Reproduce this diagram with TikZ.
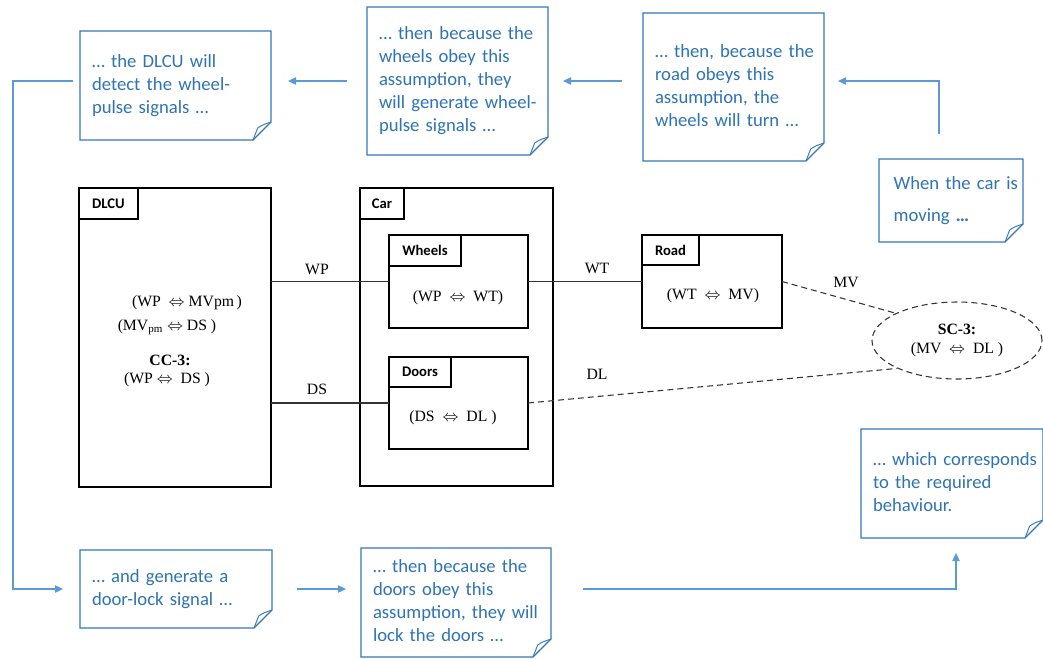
\documentclass[tikz,border=0pt]{standalone}
\usepackage{fontspec}
\setmainfont{Liberation Serif}
\newfontfamily\notefam{Carlito}
\usetikzlibrary{shapes.geometric,arrows.meta,calc}
\definecolor{notetext}{HTML}{2E74B5}
\definecolor{noteedge}{HTML}{3478BA}
\definecolor{flowcol}{HTML}{5B9BD5}
\newcommand\notelines[1]{\begin{tabular}{@{}l@{}}#1\end{tabular}}
\newcommand\noteoutline[1]{%
  \draw[noteedge, line width=0.9pt, line join=miter] (#1.north west) -- (#1.north east) -- ([yshift=13.5pt]#1.south east) -- ([xshift=-13.5pt]#1.south east) -- (#1.south west) -- cycle;
  \draw[noteedge, line width=0.7pt] ([xshift=-13.5pt]#1.south east) .. controls ([xshift=-11.5pt,yshift=5pt]#1.south east) .. ([xshift=-10pt,yshift=9pt]#1.south east) .. controls ([xshift=-6pt,yshift=11.5pt]#1.south east) .. ([yshift=13.5pt]#1.south east);}
\begin{document}
\begin{tikzpicture}[x=0.75pt,y=-0.75pt,
  notebox/.style={font=\notefam\fontsize{14}{17.25}\selectfont, text=notetext, align=left, inner xsep=9pt, inner ysep=0pt, outer sep=0pt},
  blk/.style={draw=black, line width=1.5pt, inner sep=0pt, outer sep=0pt},
  tabbox/.style={blk, anchor=north west, font=\notefam\bfseries\fontsize{11}{13}\selectfont},
  sertext/.style={font=\fontsize{11.8}{13}\selectfont, inner sep=1pt},
  wireline/.style={draw=black!80, line width=0.8pt},
  dashline/.style={draw=black!80, line width=0.8pt, dash pattern=on 4.5pt off 3pt},
  flowline/.style={draw=flowcol, line width=0.9pt, -{Triangle[length=6pt,width=5.5pt]}},
]
\path[fill=white] (0,0) rectangle (1043,658);
\useasboundingbox (0,0) rectangle (1043,658);

% ---------- notes ----------
\node[notebox, minimum width=143.25pt, minimum height=81.75pt, text width=125.25pt] (n1) at (175.5,85.5)
  {\notelines{… the DLCU will\\detect the wheel-\\pulse signals …}};
\node[notebox, minimum width=135.75pt, minimum height=111pt, text width=117.75pt] (n2) at (457.5,81)
  {\notelines{… then because the\\wheels obey this\\assumption, they\\will generate wheel-\\pulse signals …}};
\node[notebox, minimum width=135.75pt, minimum height=111pt, text width=117.75pt] (n3) at (733.5,87)
  {\notelines{… then, because the\\road obeys this\\assumption, the\\wheels will turn …}};
\node[notebox, inner xsep=11pt, minimum width=108pt, minimum height=62.25pt, text width=86pt] (n4) at (951,200.5)
  {\notelines{When the car is\\[6.75pt]moving \textbf{…}}};
\node[notebox, minimum width=136.5pt, minimum height=81.75pt, text width=118.5pt] (n5) at (952,483.5)
  {\notelines{… which corresponds\\to the required\\behaviour.}};
\node[notebox, minimum width=144pt, minimum height=58.5pt, text width=126pt] (n6) at (176,589)
  {\notelines{… and generate a\\door-lock signal …}};
\node[notebox, minimum width=142.5pt, minimum height=81.75pt, text width=124.5pt] (n7) at (456,602.5)
  {\notelines{… then because the\\doors obey this\\assumption, they will\\lock the doors …}};
\noteoutline{n1}\noteoutline{n2}\noteoutline{n3}\noteoutline{n4}
\noteoutline{n5}\noteoutline{n6}\noteoutline{n7}

% ---------- flow arrows ----------
\coordinate (loopx) at (13,0);
\draw[flowline, shorten <=15pt, shorten >=12.75pt] (n2.west) -- (n1.east |- n2.west);
\draw[flowline, shorten <=15.75pt, shorten >=11.25pt] (n3.west |- n2.east) -- (n2.east);
\draw[flowline, shorten <=18.75pt, shorten >=10.5pt] ([xshift=-9pt]n4.north) |- (n3.east |- n2.east);
\draw[flowline, shorten <=5.25pt, shorten >=12.75pt] (n1.west |- n2.west) -| (loopx |- n6.west) -- (n6.west);
\draw[flowline, shorten <=18.75pt, shorten >=11.25pt] (n6.east) -- (n7.west |- n6.east);
\draw[flowline, shorten <=24pt, shorten >=11.25pt] (n7.east |- n6.east) -| ([xshift=3pt]n5.south);

% ---------- domain boxes ----------
\node[blk, minimum width=144pt, minimum height=224.25pt] (dlcu) at (175,337.5) {};
\node[tabbox, minimum width=44.25pt, minimum height=23.25pt] (dlcutab) at (dlcu.north west) {DLCU};
\node[blk, minimum width=144.75pt, minimum height=223.5pt] (car) at (456.5,337) {};
\node[tabbox, minimum width=33pt, minimum height=23.25pt] (cartab) at (car.north west) {Car};
\node[blk, minimum width=104.25pt, minimum height=69.75pt] (wheels) at (458.5,281.5) {};
\node[tabbox, minimum width=54pt, minimum height=23.25pt] (wheelstab) at (wheels.north west) {Wheels};
\node[blk, minimum width=104.25pt, minimum height=69pt] (doors) at (458.5,403) {};
\node[tabbox, minimum width=46.5pt, minimum height=22.5pt] (doorstab) at (doors.north west) {Doors};
\node[blk, minimum width=105pt, minimum height=69.75pt] (road) at (712,281.5) {};
\node[tabbox, minimum width=42.75pt, minimum height=22.5pt] (roadtab) at (road.north west) {Road};

% ---------- texts in boxes ----------
\node[sertext] (d1) at (187,303) {(WP~ $\Leftrightarrow$ MVpm\,)};
\node[sertext] (d2) at (167,327) {(MV\textsubscript{pm} $\Leftrightarrow$ DS )};
\node[sertext] (d3) at (170,360) {\textbf{CC-3:}};
\node[sertext] (d4) at (167,380) {(WP $\Leftrightarrow$~ DS )};
\node[sertext] (wtxt) at (458,298) {(WP~ $\Leftrightarrow$~ WT)};
\node[sertext] (dtxt) at (453,418) {(DS~ $\Leftrightarrow$~ DL )};
\node[sertext] (rtxt) at (713,296) {(WT~ $\Leftrightarrow$~ MV)};

% ---------- ellipse ----------
\node[ellipse, draw=black!80, line width=0.8pt, dash pattern=on 4.5pt off 3pt, minimum width=127.5pt, minimum height=57.75pt, inner sep=0pt, align=center, font=\fontsize{11.8}{13}\selectfont] (sc3) at (957,340.5)
  {\textbf{SC-3:}\\[1.5pt](MV~ $\Leftrightarrow$~ DL )};

% ---------- connectors ----------
\draw[wireline] (dlcu.east |- wheels.west) -- (wheels.west);
\draw[wireline] (dlcu.east |- doors.west) -- (doors.west);
\draw[wireline] (wheels.east) -- (road.west);
\draw[dashline] (road.east) -- (sc3.156);
\draw[dashline] (doors.east) -- (sc3.205);

% ---------- connector labels ----------
\node[sertext] (lwp) at (317,269) {WP};
\node[sertext] (lds) at (317,389) {DS};
\node[sertext] (lwt) at (597,268) {WT};
\node[sertext] (ldl) at (597,374) {DL};
\node[sertext] (lmv) at (846,282) {MV};
\end{tikzpicture}
\end{document}
